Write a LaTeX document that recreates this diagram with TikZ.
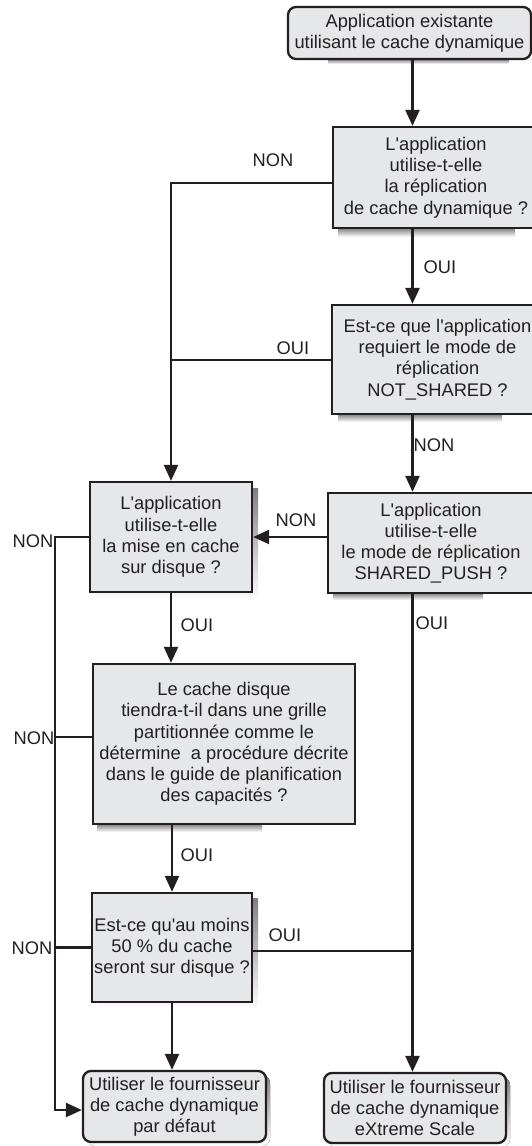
\documentclass[tikz,border=0pt]{standalone}
\usepackage{fontspec}
\setmainfont{Liberation Sans}[Ligatures=TeXOff]
\usetikzlibrary{arrows.meta}
\definecolor{ink}{HTML}{231F20}
\definecolor{boxfill}{HTML}{E6E7E8}
\definecolor{shade}{HTML}{BCBEC0}
\begin{document}
\begin{tikzpicture}[x=1pt,y=-1pt,
  every node/.style={font=\fontsize{18.3}{21.2}\selectfont, text=ink},
  qbox/.style={draw=ink, line width=2.3pt, fill=boxfill, align=center, inner sep=0pt},
  rbox/.style={qbox, rounded corners=8pt},
  conn/.style={draw=ink, line width=2.3pt},
  arr/.style={conn, -{Triangle[length=16pt,width=14pt]}},
  lbl/.style={inner sep=0pt}]
\useasboundingbox (0,0) rectangle (532,1146);
\clip (0,0) rectangle (532,1146);
% helper coordinates
\coordinate (xr) at (412.5,0);
\coordinate (xl) at (170,0);
\coordinate (xll) at (55,0);
\coordinate (yB2) at (0,183);
\coordinate (yB3) at (0,360);
\coordinate (yB6) at (0,737);
\coordinate (yB7) at (0,951);
\coordinate (yB8) at (0,1110);
% shadows
\fill[shade] (328,59) rectangle (509,64);
\fill[shade] (338,228) rectangle (515,237);
\fill[shade] (338,414) rectangle (502,422);
\fill[shade] (333,593) rectangle (483,600);
\fill[shade] (96,488) rectangle (258,600);
\fill[shade] (97,824) rectangle (262,832);
\fill[shade] (97,898) rectangle (258,1009);
\fill[shade, rounded corners=8pt] (87,1075) rectangle (270,1146);
\fill[shade, rounded corners=8pt] (328,1077) rectangle (510,1147);
% boxes
\node[rbox, minimum width=243pt, minimum height=52pt] (b1) at (409.5,33)
  {Application existante\\utilisant le cache dynamique};
\node[qbox, minimum width=206pt, minimum height=101pt] (b2) at (436,177.5)
  {L'application\\utilise-t-elle\\la réplication\\de cache dynamique ?};
\node[qbox, minimum width=211pt, minimum height=109pt] (b3) at (437.5,359.5)
  {Est-ce que l'application\\requiert le mode de\\réplication\\NOT\_SHARED ?};
\node[qbox, minimum width=162pt, minimum height=110pt] (b4) at (171,537)
  {L'application\\utilise-t-elle\\la mise en cache\\sur disque ?};
\node[qbox, minimum width=206pt, minimum height=100pt] (b5) at (431,543)
  {L'application\\utilise-t-elle\\le mode de réplication\\SHARED\_PUSH ?};
\node[qbox, minimum width=262pt, minimum height=160pt] (b6) at (224,744)
  {Le cache disque\\tiendra-t-il dans une grille\\partitionnée comme le\\détermine~ a procédure décrite\\dans le guide de planification\\des capacités ?};
\node[qbox, minimum width=160pt, minimum height=109pt] (b7) at (172,947.5)
  {Est-ce qu'au moins\\50 \% du cache\\seront sur disque ?};
\node[rbox, minimum width=183pt, minimum height=71pt] (b8) at (174.5,1106.5)
  {Utiliser le fournisseur\\de cache dynamique\\par défaut};
\node[rbox, minimum width=182pt, minimum height=70pt] (b9) at (415,1108)
  {Utiliser le fournisseur\\de cache dynamique\\eXtreme Scale};
% connectors
\draw[arr] (b1.south -| xr) -- (b2.north -| xr);
\draw[arr] (b2.south -| xr) -- (b3.north -| xr);
\draw[arr] (b3.south -| xr) -- (b5.north -| xr);
\draw[arr] (b2.west |- yB2) -| (b4.north);
\draw[conn] (b3.west |- yB3) -- (yB3 -| b4.north);
\draw[arr] (b5.west |- b4.east) -- (b4.east);
\draw[arr] (b4.west) -| (xll |- yB8) -- (b8.west |- yB8);
\draw[conn] (b6.west |- yB6) -- (xll |- yB6);
\draw[conn] (b7.west) -- (xll |- b7.west);
\draw[arr] (b4.south) -- (b6.north -| b4.south);
\draw[arr] (b6.south -| b7.north) -- (b7.north);
\draw[arr] (b7.south) -- (b8.north -| b7.south);
\draw[conn] (b7.east |- yB7) -- (xr |- yB7);
\draw[arr] (b5.south -| xr) -- (b9.north -| xr);
% labels
\node[lbl] (l1) at (273,160) {NON};
\node[lbl] (l2) at (293,348) {OUI};
\node[lbl] (l3) at (440,267) {OUI};
\node[lbl] (l4) at (434,445) {NON};
\node[lbl] (l5) at (296,520) {NON};
\node[lbl] (l6) at (33,541) {NON};
\node[lbl] (l7) at (197,625) {OUI};
\node[lbl] (l8) at (432,623) {OUI};
\node[lbl] (l9) at (34,738) {NON};
\node[lbl] (l10) at (197,855) {OUI};
\node[lbl] (l11) at (32,948) {NON};
\node[lbl] (l12) at (285,935) {OUI};
\end{tikzpicture}
\end{document}
